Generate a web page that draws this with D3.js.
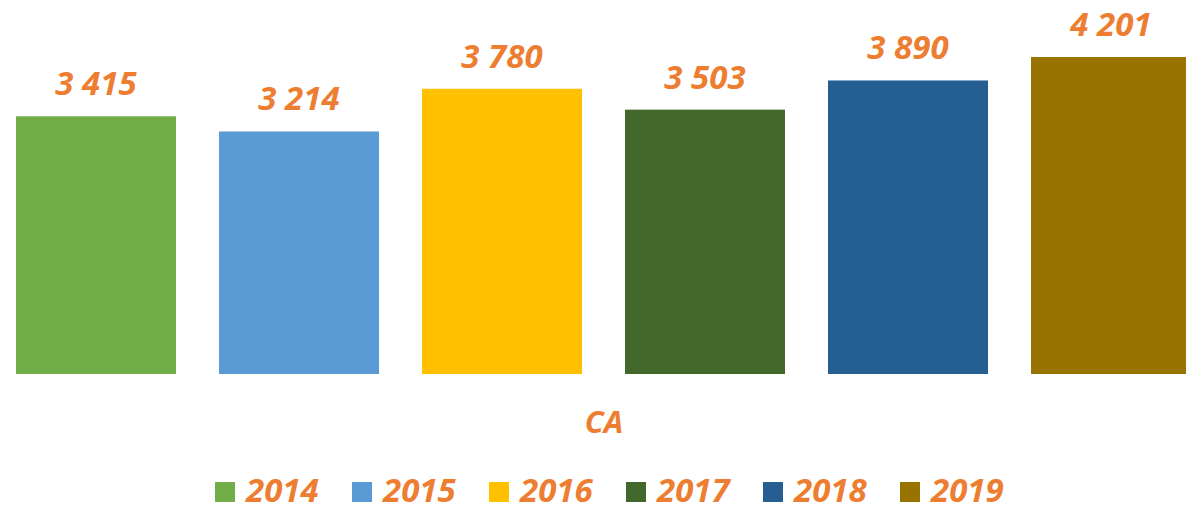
<!DOCTYPE html>
<html lang="fr">
<head>
    <meta charset="UTF-8">
    <script src="https://d3js.org/d3.v7.min.js"></script>
    <title>CA</title>
    <style>
      body { margin: 0; background: #fff; }
      text { font-family: "Open Sans", "Liberation Sans", sans-serif; font-weight: bold; font-style: italic; fill: #ED7D31; }
    </style>
</head>
<body>
    <script>
    // data
    var years = ["2014", "2015", "2016", "2017", "2018", "2019"]
    var values = [3415, 3214, 3780, 3503, 3890, 4201]
    var colors = ["#70AD47", "#5B9BD5", "#FFC000", "#43682B", "#255E91", "#997300"]
    var seriesName = "CA"

    var width = 1186, height = 506

    var svg = d3.select("body").append("svg")
        .attr("width", width)
        .attr("height", height)

    // x: step 203, bar 160
    var x = d3.scaleBand()
        .domain(years)
        .range([-5.5, -5.5 + 6 * 203])
        .paddingInner(43 / 203)
        .paddingOuter(21.5 / 203)

    var y = d3.scaleLinear()
        .domain([0, 4201])
        .range([374, 57])

    var fmt = d3.formatLocale({ decimal: ",", thousands: " ", grouping: [3], currency: ["", " €"] }).format(",d")

    var bars = svg.append("g")
    bars.selectAll("rect")
        .data(years)
        .enter()
        .append("rect")
        .attr("x", function (d) { return x(d) })
        .attr("y", function (d, i) { return y(values[i]) })
        .attr("width", x.bandwidth())
        .attr("height", function (d, i) { return y(0) - y(values[i]) })
        .style("fill", function (d, i) { return colors[i] })

    // value labels
    bars.selectAll("text")
        .data(years)
        .enter()
        .append("text")
        .attr("x", function (d) { return x(d) + x.bandwidth() / 2 })
        .attr("y", function (d, i) { return y(values[i]) - 21 })
        .attr("text-anchor", "middle")
        .style("font-size", "33px")
        .text(function (d, i) { return fmt(values[i]) })

    // axis title
    svg.append("text")
        .attr("x", 604)
        .attr("y", 433)
        .attr("text-anchor", "middle")
        .style("font-size", "31px")
        .text(seriesName)

    // legend
    var lx = d3.scalePoint().domain(years).range([215, 215 + 5 * 137])
    var legend = svg.append("g").selectAll("g")
        .data(years)
        .enter()
        .append("g")
        .attr("transform", function (d) { return "translate(" + lx(d) + ",482)" })
    legend.append("rect")
        .attr("width", 20)
        .attr("height", 20)
        .style("fill", function (d, i) { return colors[i] })
    legend.append("text")
        .attr("x", 31)
        .attr("y", 20)
        .style("font-size", "33px")
        .text(function (d) { return d })
    </script>
</body>
</html>
